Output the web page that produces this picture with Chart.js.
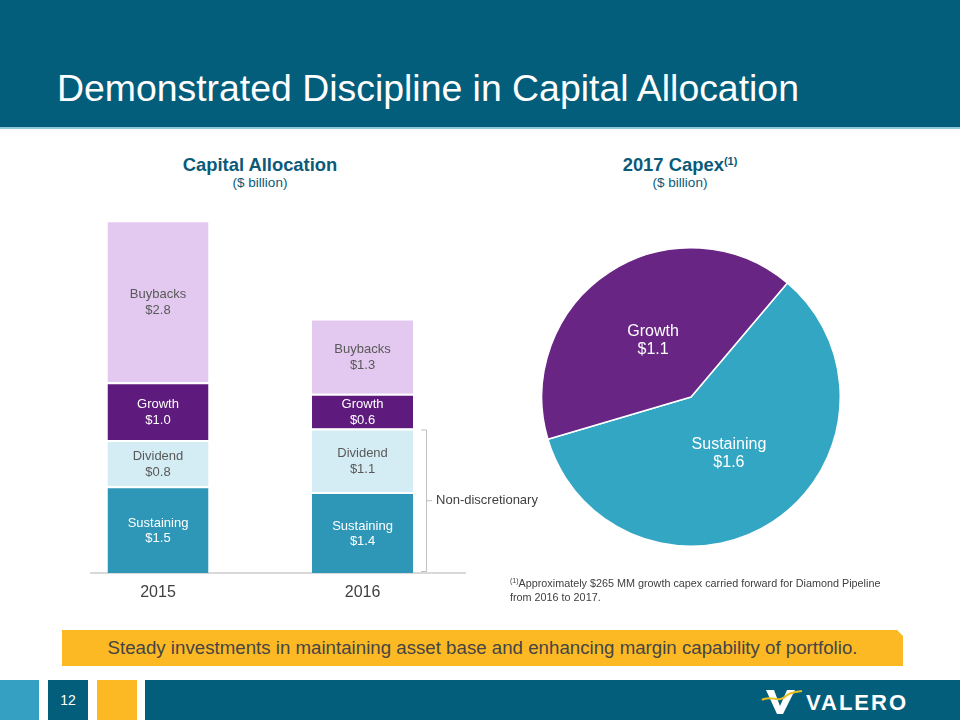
<!DOCTYPE html>
<html>
<head>
<meta charset="utf-8">
<script src="https://cdn.jsdelivr.net/npm/chart.js@4.4.0/dist/chart.umd.min.js"></script>
<style>
  html, body { margin:0; padding:0; background:#fff; }
  body { width:960px; height:720px; position:relative; overflow:hidden; font-family:"Liberation Sans", Arial, sans-serif; }
  .abs { position:absolute; }
  #header { left:0; top:0; width:960px; height:127px; background:#035E7C; border-bottom:2px solid #8FCBDD; }
  #title { left:57px; top:68px; color:#fff; font-size:37.4px; line-height:40px; white-space:nowrap; }
  .ctitle { color:#0B5A78; text-align:center; white-space:nowrap; }
  .ctitle b { font-size:18.4px; display:block; line-height:20px; }
  .ctitle span { font-size:13.5px; display:block; line-height:16px; }
  .ctitle sup { font-size:11px; vertical-align:6px; line-height:0; }
  #barWrap { left:90px; top:200px; width:465px; height:410px; }
  #pieWrap { left:541px; top:247px; width:300px; height:300px; }
  #foot { left:510px; top:576px; width:367px; font-size:10.8px; line-height:14px; color:#404040; }
  #foot .l1 { text-align:justify; text-align-last:justify; white-space:nowrap; display:block; }
  #foot sup { font-size:7px; vertical-align:4px; line-height:0; }
  #banner { left:62px; top:630px; width:841px; height:36px; background:#FDB924;
            clip-path: polygon(0 0, 835px 0, 841px 6px, 841px 36px, 0 36px);
            color:#454545; font-size:18.7px; line-height:36px; text-align:center; white-space:nowrap; }
  .fb { top:680px; height:40px; }
  #logo { left:760px; top:686px; width:160px; height:30px; }
</style>
</head>
<body>
<div id="header" class="abs"></div>
<div id="title" class="abs">Demonstrated Discipline in Capital Allocation</div>

<div class="abs ctitle" style="left:160px; top:155px; width:200px;"><b>Capital Allocation</b><span>($ billion)</span></div>
<div class="abs ctitle" style="left:580px; top:155px; width:200px;"><b>2017 Capex<sup>(1)</sup></b><span>($ billion)</span></div>

<div id="pieWrap" class="abs"><canvas id="pie"></canvas></div>
<div id="barWrap" class="abs"><canvas id="bar"></canvas></div>

<div id="foot" class="abs"><span class="l1"><sup>(1)</sup>Approximately $265 MM growth capex carried forward for Diamond Pipeline</span>from 2016 to 2017.</div>

<div id="banner" class="abs">Steady investments in maintaining asset base and enhancing margin capability of portfolio.</div>

<div class="abs fb" style="left:0; width:39px; background:#35A0C1;"></div>
<div class="abs fb" style="left:48px; width:40px; background:#035E7C; color:#fff; font-size:14px; line-height:40px; text-align:center;">12</div>
<div class="abs fb" style="left:97px; width:40px; background:#FDB924;"></div>
<div class="abs fb" style="left:145px; width:815px; background:#035E7C;"></div>
<div id="logo" class="abs">
  <svg width="160" height="30" viewBox="0 0 160 30">
    <path d="M6 4 L14 4 L20 20 L27 4 L35 4 L23 28 L17 28 Z" fill="#fff"/>
    <path d="M2 14 C10 8 18 18 26 10 C30 6 36 6 42 5" stroke="#E8C020" stroke-width="2" fill="none"/>
    <text x="46" y="24" fill="#fff" font-family="Liberation Sans, Arial" font-weight="bold" font-size="22" letter-spacing="2">VALERO</text>
  </svg>
</div>

<script>
// ---------- Data ----------
const years = ['2015', '2016'];
const sustaining = [1.5, 1.4];
const dividend = [0.8, 1.1];
const growth = [1.0, 0.6];
const buybacks = [2.8, 1.3];

const capexLabels = ['Sustaining', 'Growth'];
const capexValues = [1.6, 1.1];

const FONT = '"Liberation Sans", Arial, sans-serif';

function pts(arr) { return arr.map((v, i) => ({ x: i, y: v })); }

// ---------- Bar chart ----------
const barLabelPlugin = {
  id: 'barLabels',
  afterDatasetsDraw(chart) {
    const ctx = chart.ctx;
    ctx.save();
    ctx.font = '13px ' + FONT;
    ctx.textAlign = 'center';
    ctx.textBaseline = 'middle';
    chart.data.datasets.forEach((ds, di) => {
      const meta = chart.getDatasetMeta(di);
      meta.data.forEach((el, i) => {
        const cy = (el.y + el.base) / 2 + 1;
        ctx.fillStyle = ds.labelColor;
        ctx.fillText(ds.label, el.x, cy - 7.5);
        ctx.fillText('$' + ds.data[i].y.toFixed(1), el.x, cy + 8);
      });
    });
    // bracket for non-discretionary (2016)
    const ys = chart.scales.y;
    const last = chart.getDatasetMeta(0).data[1];
    const top = ys.getPixelForValue(sustaining[1] + dividend[1]);
    const bot = ys.getPixelForValue(0);
    const bx = last.x + last.width / 2 + 13;
    ctx.strokeStyle = '#BFBFBF';
    ctx.lineWidth = 1;
    ctx.beginPath();
    ctx.moveTo(bx - 5, top + 1.5); ctx.lineTo(bx + 0.5, top + 1.5);
    ctx.lineTo(bx + 0.5, bot - 1.5); ctx.lineTo(bx - 5, bot - 1.5);
    const mid = (top + bot) / 2;
    ctx.moveTo(bx + 0.5, mid); ctx.lineTo(bx + 6, mid);
    ctx.stroke();
    ctx.fillStyle = '#404040';
    ctx.textAlign = 'left';
    ctx.fillText('Non-discretionary', bx + 10, mid);
    ctx.restore();
  }
};

const seg = (label, data, color, labelColor) => ({
  label, data: pts(data), backgroundColor: color, labelColor,
  borderColor: '#ffffff', borderWidth: { top: 2, left: 0, right: 0, bottom: 0 }, borderSkipped: false,
  barPercentage: 0.494, categoryPercentage: 1
});

new Chart(document.getElementById('bar'), {
  type: 'bar',
  data: {
    datasets: [
      seg('Sustaining', sustaining, '#2E97B7', '#ffffff'),
      seg('Dividend', dividend, '#D4EDF4', '#595959'),
      seg('Growth', growth, '#5E1B7D', '#ffffff'),
      seg('Buybacks', buybacks, '#E3C9EF', '#595959')
    ]
  },
  options: {
    responsive: true, maintainAspectRatio: false, animation: false,
    layout: { padding: { left: 0, right: 90, top: 0, bottom: 0 } },
    plugins: { legend: { display: false }, tooltip: { enabled: false } },
    scales: {
      x: {
        type: 'linear', stacked: true, min: -0.3325, max: 1.501, offset: false, bounds: 'data',
        grid: { display: false, drawTicks: false, offset: false },
        border: { display: true, color: '#D9D9D9', width: 2 },
        afterBuildTicks: (s) => { s.ticks = years.map((y, i) => ({ value: i })); },
        afterFit: (s) => { s.height = 37; },
        ticks: { callback: (v) => years[v], color: '#404040', font: { family: FONT, size: 16 }, padding: 10, maxRotation: 0 }
      },
      y: { stacked: true, display: false, min: 0, max: 6.45 }
    }
  },
  plugins: [barLabelPlugin]
});

// ---------- Pie chart ----------
const pieLabelPlugin = {
  id: 'pieLabels',
  afterDatasetsDraw(chart) {
    const ctx = chart.ctx;
    ctx.save();
    ctx.font = '16px ' + FONT;
    ctx.fillStyle = '#ffffff';
    ctx.textAlign = 'center';
    ctx.textBaseline = 'middle';
    chart.getDatasetMeta(0).data.forEach((arc, i) => {
      const p = arc.tooltipPosition(true);
      const cx = arc.x + (p.x - arc.x) * 0.93;
      const cy = arc.y + (p.y - arc.y) * 0.9;
      ctx.fillText(chart.data.labels[i], cx, cy - 9);
      ctx.fillText('$' + capexValues[i].toFixed(1), cx, cy + 9);
    });
    ctx.restore();
  }
};

new Chart(document.getElementById('pie'), {
  type: 'pie',
  data: {
    labels: capexLabels,
    datasets: [{ data: capexValues, backgroundColor: ['#33A6C4', '#692584'], borderColor: '#ffffff', borderWidth: 1.5 }]
  },
  options: {
    responsive: true, maintainAspectRatio: false, animation: false,
    rotation: 40.2,
    layout: { padding: 0 },
    plugins: { legend: { display: false }, tooltip: { enabled: false } }
  },
  plugins: [pieLabelPlugin]
});
</script>
</body>
</html>
